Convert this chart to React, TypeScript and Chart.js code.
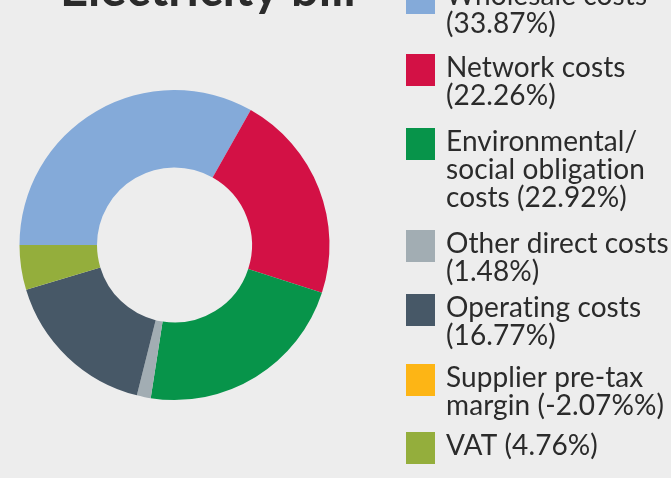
import React, { useEffect, useRef } from "react";
import { Chart, registerables } from "chart.js";

Chart.register(...registerables);

const categories = [
  "Wholesale costs",
  "Network costs",
  "Environmental/social obligation costs",
  "Other direct costs",
  "Operating costs",
  "Supplier pre-tax margin",
  "VAT",
];
const shares = [33.87, 22.26, 22.92, 1.48, 16.77, -2.07, 4.76];
const legendLines = [
  ["Wholesale costs", "(33.87%)"],
  ["Network costs", "(22.26%)"],
  ["Environmental/", "social obligation", "costs (22.92%)"],
  ["Other direct costs", "(1.48%)"],
  ["Operating costs", "(16.77%)"],
  ["Supplier pre-tax", "margin (-2.07%%)"],
  ["VAT (4.76%)"],
];
const colors = ["#84aad9", "#d31145", "#07944a", "#a2adb3", "#475867", "#fdb515", "#94ae3c"];
const title = "Electricity bill";

const legendTops = [-18, 54, 128, 230, 294, 364, 432];

const BG = "#ededed";
const TEXT = "#2b2b2b";

const overlayPlugin = {
  id: "overlay",
  beforeDraw(chart: any) {
    const ctx = chart.ctx;
    ctx.save();
    ctx.fillStyle = BG;
    ctx.fillRect(0, 0, chart.width, chart.height);
    ctx.restore();
  },
  afterDraw(chart: any) {
    const ctx = chart.ctx;
    ctx.save();
    // title
    ctx.fillStyle = TEXT;
    ctx.font = "bold 49px Lato";
    ctx.textBaseline = "alphabetic";
    ctx.textAlign = "left";
    ctx.fillText(title, 60, 6);
    // legend
    const labels = chart.data.labels as string[];
    ctx.font = "28px Lato";
    try {
      ctx.letterSpacing = "0.1px";
    } catch (e) {}
    labels.forEach((_: string, i: number) => {
      const top = legendTops[i];
      ctx.fillStyle = colors[i];
      ctx.fillRect(406, top, 29, 32);
      ctx.fillStyle = TEXT;
      legendLines[i].forEach((line, j) => {
        ctx.fillText(line, 446, top + 23 + j * 28);
      });
    });
    ctx.restore();
  },
};

export default function App() {
  const ref = useRef<HTMLCanvasElement>(null);
  useEffect(() => {
    if (!ref.current) return;
    const chart = new Chart(ref.current, {
      type: "doughnut",
      data: {
        labels: categories,
        datasets: [
          {
            data: shares.map((v) => Math.max(v, 0)),
            backgroundColor: colors,
            borderWidth: 0,
          },
        ],
      },
      options: {
        animation: false,
        responsive: true,
        maintainAspectRatio: false,
        rotation: -90,
        cutout: "50%",
        layout: { padding: { left: 19.5, right: 341.5, top: 90, bottom: 78 } },
        plugins: {
          legend: { display: false },
          tooltip: { enabled: false },
        },
      },
      plugins: [overlayPlugin],
    });
    return () => chart.destroy();
  }, []);
  return (
    <div style={{ position: "fixed", left: 0, top: 0, width: 671, height: 478, background: BG }}>
      <canvas ref={ref} />
    </div>
  );
}
